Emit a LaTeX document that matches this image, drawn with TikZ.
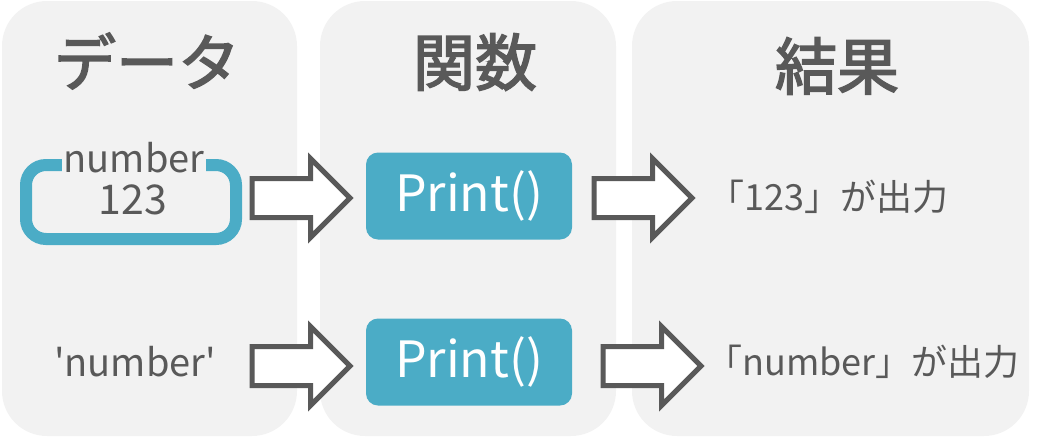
\documentclass[tikz,border=0pt]{standalone}
\usepackage{fontspec}
\setmainfont{Noto Sans CJK JP}
\newfontfamily\titlefont{Noto Sans CJK JP}[FakeBold=2.5]
\newfontfamily\rawfont{Noto Sans CJK JP}[Ligatures=TeXOff]
\usetikzlibrary{arrows.meta,calc,positioning,shapes.arrows}

\definecolor{panelgray}{HTML}{F2F2F2}
\definecolor{textgray}{HTML}{595959}
\definecolor{teal}{HTML}{4BACC6}

\begin{document}
\begin{tikzpicture}[x=1pt, y=-1pt,
    panel/.style={fill=panelgray, draw=none, rounded corners=45pt},
    title/.style={text=textgray, font=\fontsize{62}{62}\titlefont},
    body/.style={text=textgray, font=\fontsize{36}{36}\selectfont, inner sep=0pt},
    funcbox/.style={fill=teal, text=white, rounded corners=12pt,
      minimum width=206pt, minimum height=87pt,
      font=\fontsize{50}{50}\selectfont},
    blockarrow/.style={single arrow, draw=textgray, fill=white, line width=5pt,
      line join=miter, inner xsep=0pt, inner ysep=17pt,
      single arrow head extend=20pt, minimum height=98pt, anchor=tail}]
  % Frame
  \useasboundingbox (0,0) rectangle (1045,437);

  % Panels
  \fill[panel] (2,1) rectangle (297,436);
  \fill[panel] (320,1) rectangle (616,436);
  \fill[panel] (632,1) rectangle (1029,436);

  % Titles
  \node[title] (tdata) at (147,61) {データ};
  \node[title] (tfunc) at (475,62) {関数};
  \node[title] (tres) at (837,66) {結果};

  % Variable box
  \draw[draw=teal, line width=12pt, rounded corners=20pt] (26,165) rectangle (236,239);
  \node[body, fill=panelgray, inner xsep=2pt, inner ysep=6pt,
    font=\fontsize{38}{38}\selectfont] (varname) at (134,158) {number};
  \node[body, font=\fontsize{41}{41}\selectfont] (varval) at (133,200) {123};

  % Functions
  \node[funcbox] (print1) at (469,196) {Print()};
  \node[funcbox] (print2) at (469,362) {Print()};

  % String
  \node[body, font=\fontsize{38}{38}\rawfont] (str) at (135,362) {'number'};

  % Results
  \node[body, anchor=west] (res1) at (708,197) {「123」が出力};
  \node[body, anchor=west] (res2) at (706,362) {「number」が出力};

  % Arrows
  \node[blockarrow] (arr1) at (249.5,198) {};
  \node[blockarrow] (arr2) at (591.5,198) {};
  \node[blockarrow] (arr3) at (249.5,366) {};
  \node[blockarrow] (arr4) at (600.5,366) {};
\end{tikzpicture}
\end{document}
